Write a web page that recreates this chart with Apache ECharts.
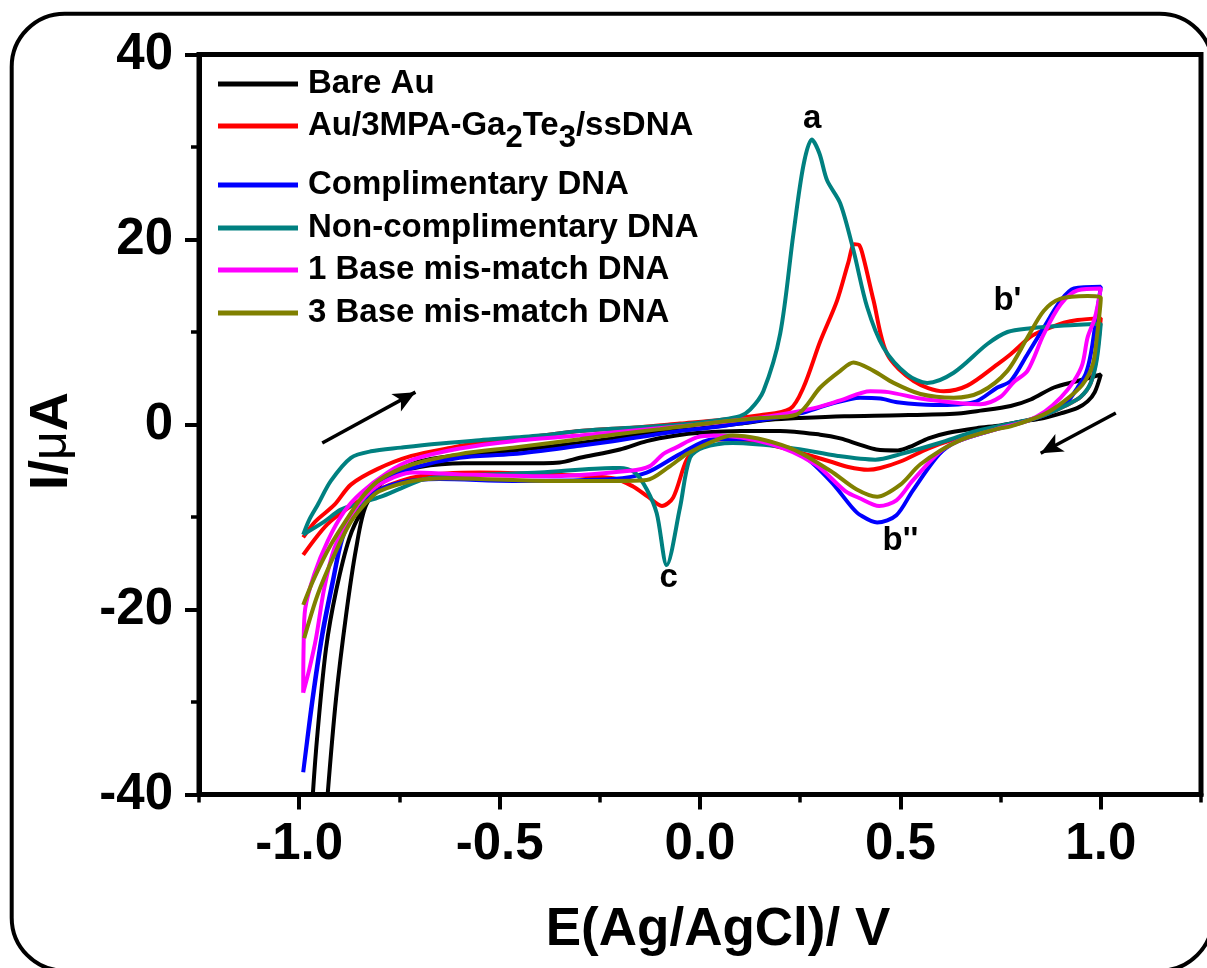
<!DOCTYPE html>
<html>
<head>
<meta charset="utf-8">
<script src="https://cdn.jsdelivr.net/npm/echarts@6/dist/echarts.min.js"></script>
<style>
  html, body { margin: 0; padding: 0; background: #ffffff; }
  #chart { width: 1207px; height: 968px; }
</style>
</head>
<body>
<div id="chart"></div>
<script>
// Cyclic voltammograms: each trace is a closed loop [E (V), I (µA)],
// forward scan from -1.0 V to +1.0 V, then the reverse scan back.
const seriesNames = [
  'Bare Au',
  'Au/3MPA-Ga2Te3/ssDNA',
  'Complimentary DNA',
  'Non-complimentary DNA',
  '1 Base mis-match DNA',
  '3 Base mis-match DNA'
];
const seriesColors = ['#000000', '#ff0000', '#0000ff', '#008080', '#ff00ff', '#808000'];

const bareAu = [
  [-0.975, -47], [-0.966, -40], [-0.954, -33.2], [-0.933, -24.2], [-0.908, -18.0], [-0.875, -12.3],
  [-0.842, -9.2], [-0.80, -6.6], [-0.75, -5.0], [-0.70, -4.0], [-0.60, -3.3], [-0.467, -2.8],
  [-0.30, -2.0], [-0.133, -1.0], [0.0, -0.4], [0.1, 0.1], [0.175, 0.5], [0.25, 0.7], [0.36, 0.9],
  [0.5, 1.0], [0.644, 1.2], [0.70, 1.5], [0.775, 2.0], [0.825, 2.7], [0.883, 4.0], [0.942, 4.7], [1.0, 5.4],
  [0.985, 3.5], [0.967, 2.5], [0.942, 1.8], [0.90, 1.2], [0.858, 0.7], [0.80, 0.3], [0.75, -0.1],
  [0.69, -0.4], [0.62, -0.9], [0.57, -1.5], [0.53, -2.3], [0.494, -2.8], [0.44, -2.7], [0.40, -2.2],
  [0.35, -1.5], [0.30, -1.1], [0.20, -0.7], [0.10, -0.7], [0.0, -0.9], [-0.06, -1.2], [-0.133, -1.8],
  [-0.20, -2.7], [-0.30, -3.6], [-0.35, -4.1], [-0.45, -4.2], [-0.59, -4.2], [-0.70, -4.6], [-0.78, -5.6],
  [-0.833, -8.7], [-0.858, -13.4], [-0.883, -20.6], [-0.908, -29.6], [-0.929, -40], [-0.94, -47]
];

const ssDna = [
  [-0.99, -12.2], [-0.96, -10.5], [-0.9125, -8.7], [-0.871, -6.5], [-0.804, -4.8], [-0.72, -3.4],
  [-0.62, -2.5], [-0.5375, -1.9], [-0.45, -1.5], [-0.30, -0.7], [-0.15, -0.3], [-0.05, 0.1], [0.05, 0.5],
  [0.15, 1.0], [0.225, 1.7], [0.258, 4.0], [0.30, 9.0], [0.342, 13.4], [0.37, 17.5], [0.385, 19.5],
  [0.397, 19.4], [0.408, 18.0], [0.433, 13.4], [0.467, 7.6], [0.533, 4.7], [0.608, 3.6], [0.667, 4.2],
  [0.742, 6.5], [0.775, 7.6], [0.825, 9.5], [0.858, 10.2], [0.908, 11.0], [0.942, 11.3], [1.0, 11.5],
  [0.99, 7.5], [0.975, 4.5], [0.95, 3.0], [0.91, 2.0], [0.87, 1.2], [0.83, 0.6], [0.75, -0.3],
  [0.69, -1.0], [0.62, -1.8], [0.569, -2.6], [0.50, -4.0], [0.45, -4.7], [0.419, -4.9], [0.37, -4.6],
  [0.325, -4.0], [0.27, -3.3], [0.222, -2.7], [0.15, -2.0], [0.081, -1.6], [0.03, -1.7], [0.0, -2.2],
  [-0.033, -3.8], [-0.067, -7.9], [-0.095, -8.8], [-0.13, -7.8], [-0.167, -6.7], [-0.217, -5.8],
  [-0.383, -5.4], [-0.55, -5.2], [-0.70, -5.6], [-0.80, -7.0], [-0.87, -8.8], [-0.93, -10.8], [-0.99, -14.1]
];

const complimentaryDna = [
  [-0.99, -37.6], [-0.967, -29.6], [-0.942, -22.4], [-0.917, -17.0], [-0.892, -12.0], [-0.8625, -9.3],
  [-0.821, -7.0], [-0.7875, -6.0], [-0.717, -4.7], [-0.60, -3.6], [-0.467, -3.2], [-0.30, -2.3],
  [-0.217, -1.8], [-0.05, -0.7], [0.033, -0.3], [0.128, 0.3], [0.20, 0.8], [0.25, 1.2], [0.325, 2.2],
  [0.40, 2.9], [0.45, 2.8], [0.492, 2.4], [0.583, 2.1], [0.683, 2.4], [0.742, 4.0], [0.775, 4.7],
  [0.817, 7.6], [0.858, 10.5], [0.90, 13.4], [0.933, 14.7], [1.0, 14.9],
  [0.9875, 11.2], [0.975, 7.6], [0.9625, 5.5], [0.942, 4.0], [0.917, 2.5], [0.875, 1.3], [0.817, 0.4],
  [0.74, -0.5], [0.644, -1.8], [0.597, -3.2], [0.53, -7.2], [0.49, -9.8], [0.442, -10.6], [0.40, -9.8],
  [0.38, -9.0], [0.325, -6.1], [0.25, -3.2], [0.128, -1.6], [0.033, -1.6], [-0.05, -3.2], [-0.133, -5.2],
  [-0.217, -5.9], [-0.467, -6.1], [-0.65, -5.9], [-0.75, -6.3], [-0.821, -7.6], [-0.8625, -9.6],
  [-0.892, -12.3], [-0.917, -17.3], [-0.942, -22.8], [-0.967, -30.0], [-0.99, -37.6]
];

const nonComplimentaryDna = [
  [-0.99, -11.9], [-0.975, -10.3], [-0.954, -8.7], [-0.921, -6.1], [-0.871, -3.6], [-0.821, -2.9],
  [-0.746, -2.5], [-0.6625, -2.1], [-0.55, -1.7], [-0.40, -1.2], [-0.30, -0.7], [-0.15, -0.3],
  [-0.05, 0.0], [0.05, 0.5], [0.10, 0.9], [0.125, 1.6], [0.158, 3.6], [0.20, 9.8], [0.233, 20.6],
  [0.258, 28.0], [0.279, 30.8], [0.298, 29.3], [0.317, 26.4], [0.35, 23.9], [0.383, 18.8], [0.417, 12.7],
  [0.458, 8.3], [0.517, 5.4], [0.567, 4.5], [0.633, 5.6], [0.717, 8.7], [0.767, 10.0], [0.825, 10.4],
  [0.908, 10.7], [1.0, 10.9],
  [0.99, 7.0], [0.975, 4.5], [0.95, 3.0], [0.91, 2.0], [0.87, 1.2], [0.83, 0.6], [0.69, -0.7],
  [0.597, -2.0], [0.50, -3.2], [0.4375, -3.8], [0.344, -3.4], [0.222, -2.5], [0.081, -2.0], [0.008, -2.5],
  [-0.025, -3.6], [-0.05, -9.0], [-0.083, -15.2], [-0.108, -9.6], [-0.133, -7.0], [-0.1625, -5.2],
  [-0.20, -4.7], [-0.217, -4.7], [-0.40, -5.2], [-0.5375, -5.4], [-0.62, -5.6], [-0.6875, -5.9],
  [-0.746, -6.9], [-0.796, -7.8], [-0.846, -8.5], [-0.896, -9.2], [-0.9375, -10.5], [-0.99, -11.9]
];

const oneBaseMismatch = [
  [-0.99, -29.0], [-0.989, -24.0], [-0.985, -19.9], [-0.9625, -16.2], [-0.929, -12.6], [-0.8875, -9.4],
  [-0.846, -7.4], [-0.78, -5.2], [-0.717, -3.8], [-0.60, -2.6], [-0.467, -1.8], [-0.30, -1.2],
  [-0.15, -0.6], [0.0, 0.0], [0.10, 0.5], [0.175, 0.9], [0.2875, 1.8], [0.35, 2.6], [0.425, 3.6],
  [0.47, 3.5], [0.55, 2.8], [0.65, 2.3], [0.70, 2.2], [0.75, 3.0], [0.783, 4.6], [0.817, 5.8],
  [0.858, 9.8], [0.90, 13.0], [0.942, 14.5], [1.0, 14.7],
  [0.985, 11.5], [0.967, 9.4], [0.954, 6.5], [0.933, 4.7], [0.90, 2.9], [0.86, 1.4], [0.817, 0.4],
  [0.74, -0.5], [0.644, -1.8], [0.597, -3.0], [0.53, -6.1], [0.49, -8.2], [0.447, -8.8], [0.40, -8.0],
  [0.3625, -7.2], [0.2875, -4.3], [0.175, -2.1], [0.034, -1.2], [-0.008, -1.4], [-0.06, -2.5],
  [-0.092, -3.2], [-0.125, -4.5], [-0.175, -5.0], [-0.383, -5.6], [-0.60, -5.4], [-0.717, -5.2],
  [-0.80, -6.5], [-0.846, -8.3], [-0.879, -10.5], [-0.9125, -13.4], [-0.9375, -17.7], [-0.958, -23.1],
  [-0.975, -26.5], [-0.99, -29.0]
];

const threeBaseMismatch = [
  [-0.99, -19.5], [-0.9625, -16.6], [-0.921, -13.0], [-0.879, -10.1], [-0.846, -8.0], [-0.80, -6.0],
  [-0.717, -4.3], [-0.60, -3.2], [-0.467, -2.5], [-0.30, -1.6], [-0.217, -1.1], [-0.10, -0.5],
  [0.033, 0.2], [0.15, 0.7], [0.242, 1.1], [0.30, 4.0], [0.35, 5.8], [0.383, 6.7], [0.433, 5.8],
  [0.483, 4.5], [0.55, 3.3], [0.633, 2.9], [0.70, 3.5], [0.767, 5.8], [0.817, 9.4], [0.858, 12.3],
  [0.90, 13.6], [0.967, 13.9], [1.0, 13.7],
  [0.99, 9.4], [0.98, 6.5], [0.954, 4.3], [0.908, 2.5], [0.858, 1.1], [0.775, -0.2], [0.74, -0.5],
  [0.644, -1.8], [0.55, -4.3], [0.50, -6.5], [0.442, -7.8], [0.39, -7.0], [0.325, -5.0], [0.222, -2.5],
  [0.081, -1.2], [0.033, -1.8], [-0.033, -3.2], [-0.078, -4.6], [-0.133, -6.0], [-0.217, -6.1],
  [-0.383, -6.1], [-0.633, -5.8], [-0.717, -6.1], [-0.80, -7.2], [-0.83, -8.3], [-0.871, -10.5],
  [-0.9125, -14.1], [-0.954, -18.4], [-0.9875, -23.1]
];

const traces = [bareAu, ssDna, complimentaryDna, nonComplimentaryDna, oneBaseMismatch, threeBaseMismatch];

// Peak annotations and scan-direction arrows, in data coordinates.
const peakLabels = [
  { name: 'a', coord: [0.28, 33.0] },
  { name: "b'", coord: [0.767, 13.4] },
  { name: "b''", coord: [0.50, -12.6] },
  { name: 'c', coord: [-0.078, -16.6] }
];
const scanArrows = [
  [[-0.9425, -2.0], [-0.71, 3.5]],
  [[1.0375, 1.25], [0.85, -3.1]]
];

const xMajorTicks = { min: -1.0, max: 1.0, step: 0.5 };
const xFullRange = { min: -1.25, max: 1.25, step: 0.25 };
const yRange = { min: -40, max: 40, step: 20 };

const FONT = '"Liberation Sans", Arial, Helvetica, sans-serif';
const chart = echarts.init(document.getElementById('chart'), null, { renderer: 'canvas' });

const gridTop = 54.5, gridBottom = 173.5, gridLeft = 199, gridRight = 6;
const pxPerVolt = (1207 - gridLeft - gridRight) / (xFullRange.max - xFullRange.min);
const innerInset = (xMajorTicks.min - xFullRange.min) * pxPerVolt;

const legendCenters = [84, 127, 185, 228, 270, 313];

const lineSeries = traces.map((d, i) => ({
  name: seriesNames[i],
  type: 'line',
  xAxisIndex: 0,
  yAxisIndex: 0,
  data: d,
  smooth: 0.3,
  showSymbol: false,
  symbol: 'none',
  clip: true,
  lineStyle: { color: seriesColors[i], width: 4 },
  itemStyle: { color: seriesColors[i] },
  emphasis: { disabled: true },
  z: 3 + i
}));

const annotationSeries = {
  name: 'annotations',
  type: 'line',
  xAxisIndex: 0,
  yAxisIndex: 0,
  data: [],
  silent: true,
  z: 20,
  markLine: {
    silent: true,
    symbol: ['none', 'arrow'],
    symbolSize: [15, 22],
    label: { show: false },
    lineStyle: { color: '#000', width: 3.5, type: 'solid' },
    emphasis: { disabled: true },
    data: scanArrows.map(a => [{ coord: a[0] }, { coord: a[1] }])
  },
  markPoint: {
    silent: true,
    symbol: 'rect',
    symbolSize: 1,
    itemStyle: { color: 'rgba(0,0,0,0)' },
    label: {
      show: true,
      position: 'inside',
      formatter: '{b}',
      color: '#000',
      fontFamily: FONT,
      fontWeight: 'bold',
      fontSize: 33
    },
    data: peakLabels.map(p => ({ name: p.name, coord: p.coord }))
  }
};

const option = {
  animation: false,
  backgroundColor: '#ffffff',
  grid: [
    {
      left: gridLeft, right: gridRight, top: gridTop, bottom: gridBottom,
      show: true, borderColor: '#000', borderWidth: 5, backgroundColor: 'transparent'
    },
    {
      left: gridLeft + innerInset, right: gridRight + innerInset, top: gridTop, bottom: gridBottom,
      show: false
    }
  ],
  xAxis: [
    {
      type: 'value', gridIndex: 0,
      min: xFullRange.min, max: xFullRange.max, interval: xFullRange.step,
      axisLine: { show: true, onZero: false, lineStyle: { color: '#000', width: 5 } },
      axisTick: { show: true, inside: false, length: 8, lineStyle: { color: '#000', width: 3.5 } },
      axisLabel: { show: false },
      splitLine: { show: false }
    },
    {
      type: 'value', gridIndex: 1,
      min: xMajorTicks.min, max: xMajorTicks.max, interval: xMajorTicks.step,
      axisLine: { show: false, onZero: false },
      axisTick: { show: true, inside: false, length: 15, lineStyle: { color: '#000', width: 4 } },
      axisLabel: {
        show: true, margin: 25, color: '#000',
        fontFamily: FONT, fontWeight: 'bold', fontSize: 51,
        formatter: v => v.toFixed(1)
      },
      splitLine: { show: false }
    }
  ],
  yAxis: [
    {
      type: 'value', gridIndex: 0,
      min: yRange.min, max: yRange.max, interval: yRange.step,
      axisLine: { show: true, onZero: false, lineStyle: { color: '#000', width: 5 } },
      axisTick: { show: true, inside: false, length: 14, lineStyle: { color: '#000', width: 4 } },
      minorTick: { show: true, splitNumber: 2, length: 8, lineStyle: { color: '#000', width: 3.5 } },
      axisLabel: {
        show: true, margin: 26, color: '#000',
        fontFamily: FONT, fontWeight: 'bold', fontSize: 51
      },
      splitLine: { show: false },
      minorSplitLine: { show: false }
    },
    {
      type: 'value', gridIndex: 1, min: yRange.min, max: yRange.max,
      show: false
    }
  ],
  legend: seriesNames.map((n, i) => ({
    data: [n],
    left: 218,
    top: legendCenters[i] - (i === 1 ? 28.5 : 16.5),
    padding: 0,
    icon: 'rect',
    itemWidth: 80,
    itemHeight: 5,
    selectedMode: false,
    formatter: i === 1 ? () => 'Au/3MPA-Ga{sub|2}Te{sub|3}/ssDNA' : undefined,
    textStyle: {
      color: '#000',
      fontFamily: FONT,
      fontWeight: 'bold',
      fontSize: 33,
      lineHeight: 33,
      padding: [0, 0, 0, 5],
      rich: {
        sub: {
          color: '#000', fontFamily: FONT, fontWeight: 'bold',
          fontSize: 31, lineHeight: 33, padding: [24, 0, 0, 0]
        }
      }
    }
  })),
  graphic: [
    {
      type: 'rect', z: -10, silent: true,
      shape: { x: 11.7, y: 13.7, width: 1201, height: 957, r: 53 },
      style: { fill: 'none', stroke: '#000', lineWidth: 4 }
    },
    {
      type: 'text', silent: true,
      x: 718, y: 930,
      style: {
        text: 'E(Ag/AgCl)/ V',
        fill: '#000', font: 'bold 53px ' + FONT,
        align: 'center', verticalAlign: 'middle'
      }
    },
    {
      type: 'text', silent: true,
      x: 52, y: 441, rotation: Math.PI / 2,
      style: {
        text: '{n|I/}{mu|μ}{n|A}',
        align: 'center', verticalAlign: 'middle',
        rich: {
          n: { fill: '#000', fontFamily: FONT, fontWeight: 'bold', fontSize: 54 },
          mu: { fill: '#000', fontFamily: FONT, fontWeight: 'normal', fontSize: 50 }
        }
      }
    }
  ],
  series: lineSeries.concat([annotationSeries])
};

chart.setOption(option);
</script>
</body>
</html>
